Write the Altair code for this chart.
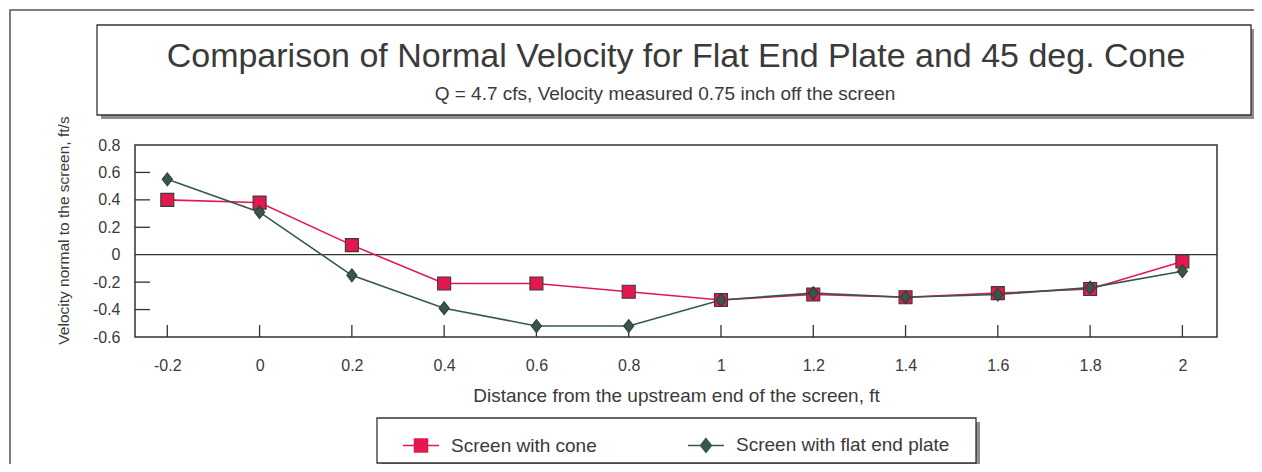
import altair as alt
import pandas as pd

# ---------------- data ----------------
distance = [-0.2, 0.0, 0.2, 0.4, 0.6, 0.8, 1.0, 1.2, 1.4, 1.6, 1.8, 2.0]
cone = [0.40, 0.38, 0.07, -0.21, -0.21, -0.27, -0.33, -0.29, -0.31, -0.28, -0.25, -0.05]
flat = [0.55, 0.31, -0.15, -0.39, -0.52, -0.52, -0.33, -0.28, -0.31, -0.29, -0.24, -0.12]
series_names = ["Screen with cone", "Screen with flat end plate"]
series_colors = ["#e3184f", "#35584a"]
x_ticks = [-0.2, 0, 0.2, 0.4, 0.6, 0.8, 1, 1.2, 1.4, 1.6, 1.8, 2]
y_ticks = [-0.6, -0.4, -0.2, 0, 0.2, 0.4, 0.6, 0.8]
y_inner_ticks = [-0.4, -0.2, 0.2, 0.4, 0.6]
title_text = "Comparison of Normal Velocity for Flat End Plate and 45 deg. Cone"
subtitle_text = "Q = 4.7 cfs, Velocity measured 0.75 inch off the screen"
x_title = "Distance from the upstream end of the screen, ft"
y_title = "Velocity normal to the screen, ft/s"

FONT = "Liberation Sans"
TXT = "#3a3a3a"
W, H = 1082, 192

df = pd.DataFrame({
    "distance": distance + distance,
    "velocity": cone + flat,
    "series": [series_names[0]] * len(distance) + [series_names[1]] * len(distance),
    "order": [0] * len(distance) + [1] * len(distance),
})
one = pd.DataFrame({"k": [0]})
xt = pd.DataFrame({"distance": x_ticks})
yt = pd.DataFrame({"velocity": y_inner_ticks})
zt = pd.DataFrame({"velocity": [0]})

xscale = alt.Scale(domain=[-0.27, 2.075], nice=False, zero=False)
yscale = alt.Scale(domain=[-0.6, 0.8], nice=False, zero=False)
color_scale = alt.Scale(domain=series_names, range=series_colors)
marker_paths = ["M-1,-1H1V1H-1Z", "M0,-1L0.78,0L0,1L-0.78,0Z"]
leg_sq = "M-1,0H-0.36M0.36,0H1M-0.36,-0.36H0.36V0.36H-0.36Z"
leg_dia = "M-1,0H-0.3M0.3,0H1M0,-0.38L0.3,0L0,0.38L-0.3,0Z"

x_axis = alt.Axis(values=x_ticks, ticks=False, domain=False, grid=False,
                  labelExpr="'' + datum.value",
                  labelFont=FONT, labelFontSize=16, labelColor=TXT, labelPadding=20,
                  labelFlush=False, labelOverlap=False,
                  title=x_title, titleFont=FONT, titleFontSize=19, titleFontWeight="normal",
                  titleColor=TXT, titleX=541, titleY=64, titleAlign="center",
                  titleBaseline="alphabetic")
y_axis = alt.Axis(values=y_ticks, ticks=False, domain=False, grid=False,
                  labelExpr="'' + datum.value",
                  labelFont=FONT, labelFontSize=16, labelColor=TXT, labelPadding=15,
                  labelFlush=False, labelOverlap=False,
                  title=y_title, titleFont=FONT, titleFontSize=15.5, titleFontWeight="normal",
                  titleColor=TXT, titleX=-72, titleY=85, titleAngle=270,
                  titleAlign="center", titleBaseline="middle")
legend = alt.Legend(
    orient="none", legendX=267, legendY=281, direction="horizontal", title=None, zindex=2,
    symbolSize=1296, symbolStrokeWidth=1.6,
    symbolType=alt.ExprRef(f"datum.value === '{series_names[0]}' ? '{leg_sq}' : '{leg_dia}'"),
    symbolFillColor=alt.ExprRef(
        f"datum.value === '{series_names[0]}' ? '{series_colors[0]}' : '{series_colors[1]}'"),
    labelFont=FONT, labelFontSize=19, labelColor=TXT, labelOffset=11, labelLimit=400,
    columnPadding=87, padding=0,
)

# ---------------- decorations ----------------
outer = alt.Chart(one).mark_rect(fill="white", fillOpacity=0, stroke="#555555", strokeWidth=1.5).encode(
    x=alt.value(-125), x2=alt.value(1300), y=alt.value(-135), y2=alt.value(400))

tb_shadow = alt.Chart(one).mark_rect(fill="#8e8e8e").encode(
    x=alt.value(-34), x2=alt.value(1121), y=alt.value(-116), y2=alt.value(-26))
tb_box = alt.Chart(one).mark_rect(fill="white", stroke="#333333", strokeWidth=1.3).encode(
    x=alt.value(-38), x2=alt.value(1116), y=alt.value(-120), y2=alt.value(-30))
lb_shadow = alt.Chart(one).mark_rect(fill="#8e8e8e").encode(
    x=alt.value(246), x2=alt.value(845), y=alt.value(277), y2=alt.value(322))
lb_box = alt.Chart(one).mark_rect(fill="white", stroke="#333333", strokeWidth=1.3).encode(
    x=alt.value(242), x2=alt.value(841), y=alt.value(273), y2=alt.value(318))

title = alt.Chart(one).mark_text(text=title_text, font=FONT, fontSize=34, color=TXT,
                                 align="center", baseline="alphabetic").encode(
    x=alt.value(541), y=alt.value(-78))
subtitle = alt.Chart(one).mark_text(text=subtitle_text, font=FONT, fontSize=19, color=TXT,
                                    align="center", baseline="alphabetic").encode(
    x=alt.value(530), y=alt.value(-45))

zero_line = alt.Chart(zt).mark_rule(color="#333333", strokeWidth=1.3).encode(
    y=alt.Y("velocity:Q", scale=yscale, axis=y_axis))

y_tick_marks = alt.Chart(yt).mark_rule(color="#333333", strokeWidth=1.3).encode(
    y=alt.Y("velocity:Q", scale=yscale, axis=y_axis),
    x=alt.value(0), x2=alt.value(15))
x_tick_marks = alt.Chart(xt).mark_rule(color="#333333", strokeWidth=1.3).encode(
    x=alt.X("distance:Q", scale=xscale, axis=x_axis),
    y=alt.value(H), y2=alt.value(H - 12))

# ---------------- data layers ----------------
lines = alt.Chart(df).mark_line(strokeWidth=1.6).encode(
    x=alt.X("distance:Q", scale=xscale, axis=x_axis),
    y=alt.Y("velocity:Q", scale=yscale, axis=y_axis),
    color=alt.Color("series:N", scale=color_scale, legend=legend),
    detail="series:N",
    order="order:Q",
)

point_layers = []
for name, col, path in zip(series_names, series_colors, marker_paths):
    point_layers.append(
        alt.Chart(df).transform_filter(alt.datum.series == name)
        .mark_point(filled=True, size=169, opacity=1, shape=path, fill=col,
                    stroke="#3a3a3a", strokeWidth=1.1)
        .encode(
            x=alt.X("distance:Q", scale=xscale, axis=x_axis),
            y=alt.Y("velocity:Q", scale=yscale, axis=y_axis),
        )
    )

chart = alt.layer(
    outer, tb_shadow, tb_box, lb_shadow, lb_box, title, subtitle,
    zero_line, y_tick_marks, x_tick_marks, lines, *point_layers,
).properties(
    width=W, height=H, background="white",
    autosize=alt.AutoSizeParams(type="none"),
    padding={"left": 127, "top": 137, "right": 37, "bottom": 127},
).configure_view(
    stroke="#333333", strokeWidth=1.5
)

chart.save("out.html", embed_options={"renderer": "svg", "actions": False})
